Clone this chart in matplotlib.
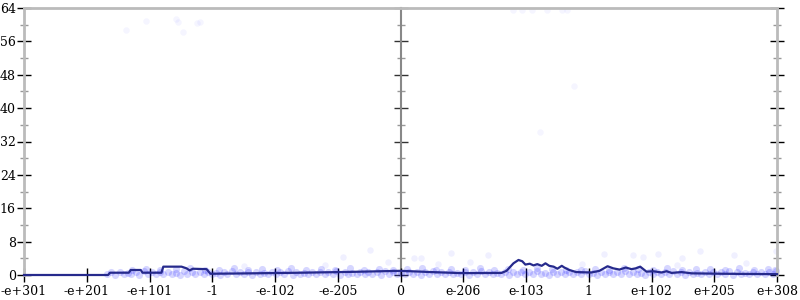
import matplotlib
matplotlib.use('Agg')
import matplotlib.pyplot as plt
import numpy as np
from matplotlib.ticker import MultipleLocator, NullFormatter

# x positions are in "tick units": one unit per labelled float magnitude
tick_pos = [-6, -5, -4, -3, -2, -1, 0, 1, 2, 3, 4, 5, 6]
tick_labels = ['-e+301', '-e+201', '-e+101', '-1', '-e-102', '-e-205', '0',
               'e-206', 'e-103', '1', 'e+102', 'e+205', 'e+308']

# average error line (bits)
line_x = [-6.0, -4.66, -4.63, -4.33, -4.30, -4.14, -4.11, -3.81, -3.78, -3.49,
          -3.41, -3.36, -3.31, -3.09, -3.03, -2.37, -1.58, -0.78, 0.0,
          0.49, 0.97, 1.61, 1.69, 1.80, 1.88, 1.94, 1.99, 2.06, 2.12, 2.18,
          2.25, 2.31, 2.37, 2.44, 2.50, 2.57, 2.61, 2.69, 2.80, 3.04, 3.17,
          3.30, 3.39, 3.49, 3.59, 3.68, 3.75, 3.82, 3.92, 4.03, 4.16, 4.24,
          4.32, 4.48, 4.64, 5.12, 6.0]
line_y = [0.0, 0.0, 0.55, 0.55, 1.2, 1.2, 0.55, 0.55, 2.0, 2.0,
          1.6, 1.1, 1.5, 1.4, 0.3, 0.4, 0.55, 0.75, 1.0,
          0.7, 0.45, 0.5, 1.0, 2.8, 3.6, 3.3, 2.5, 2.7, 2.3, 2.6,
          2.2, 2.8, 2.2, 2.0, 1.5, 2.2, 1.8, 1.2, 0.7, 0.6, 1.0,
          2.1, 1.6, 1.3, 1.8, 1.4, 1.6, 2.0, 0.8, 0.9, 0.6, 0.9,
          0.5, 0.7, 0.4, 0.3, 0.2]

# sampled points, low band
rowA_x = [-4.68, -4.55, -4.41, -4.30, -4.17, -4.02, -3.90, -3.79, -3.64, -3.52,
          -3.40, -3.27, -3.13, -3.01, -2.88, -2.76, -2.62, -2.50, -2.37, -2.24,
          -2.11, -1.99, -1.86, -1.72, -1.60, -1.47, -1.35, -1.21, -1.08, -0.96,
          -0.83, -0.70, -0.57, -0.45, -0.31, -0.19, -0.06, 0.07, 0.20, 0.33,
          0.45, 0.58, 0.71, 0.84, 0.96, 1.09, 1.22, 1.35, 1.47, 1.60,
          1.73, 1.86, 1.98, 2.11, 2.24, 2.37, 2.49, 2.62, 2.75, 2.88,
          3.00, 3.13, 3.26, 3.39, 3.51, 3.64, 3.77, 3.90, 4.02, 4.15,
          4.28, 4.41, 4.53, 4.66, 4.79, 4.92, 5.04, 5.17, 5.30, 5.43,
          5.55, 5.68, 5.81, 5.94]
rowA_y = [0.2, 0.1, 0.3, 0.2, 0.1, 0.25, 0.15, 0.3, 0.2, 0.1,
          0.2, 0.3, 0.15, 0.2, 0.1, 0.25, 0.2, 0.3, 0.1, 0.2,
          0.15, 0.25, 0.2, 0.1, 0.3, 0.2, 0.15, 0.2, 0.25, 0.1,
          0.2, 0.3, 0.2, 0.15, 0.1, 0.25, 0.2, 0.3, 0.2, 0.1,
          0.2, 0.15, 0.25, 0.2, 0.3, 0.1, 0.2, 0.2, 0.15, 0.25,
          0.1, 0.3, 0.2, 0.15, 0.2, 0.1, 0.25, 0.2, 0.3, 0.15,
          0.2, 0.1, 0.2, 0.25, 0.15, 0.3, 0.2, 0.1, 0.2, 0.25,
          0.15, 0.2, 0.1, 0.3, 0.2, 0.15, 0.25, 0.2, 0.1, 0.2,
          0.3, 0.15, 0.2, 0.25]

rowB_x = [-4.61, -4.47, -4.35, -4.22, -4.09, -3.96, -3.84, -3.70, -3.57, -3.45,
          -3.33, -3.20, -3.07, -2.94, -2.82, -2.69, -2.56, -2.43, -2.30, -2.17,
          -2.05, -1.92, -1.79, -1.66, -1.54, -1.41, -1.28, -1.15, -1.02, -0.89,
          -0.77, -0.64, -0.51, -0.38, -0.25, -0.12, 0.01, 0.13, 0.26, 0.39,
          0.52, 0.65, 0.77, 0.90, 1.03, 1.16, 1.29, 1.41, 1.54, 1.67,
          1.80, 1.92, 2.05, 2.18, 2.31, 2.43, 2.56, 2.69, 2.82, 2.94,
          3.07, 3.20, 3.33, 3.45, 3.58, 3.71, 3.84, 3.96, 4.09, 4.22,
          4.35, 4.47, 4.60, 4.73, 4.86, 4.98, 5.11, 5.24, 5.37, 5.49,
          5.62, 5.75, 5.88, 5.99]
rowB_y = [0.6, 0.8, 0.5, 0.7, 0.9, 0.6, 0.8, 0.7, 0.5, 0.9,
          0.7, 0.6, 0.8, 0.5, 0.7, 0.9, 0.6, 0.8, 0.7, 0.5,
          0.8, 0.6, 0.9, 0.7, 0.5, 0.8, 0.6, 0.7, 0.9, 0.6,
          0.5, 0.8, 0.7, 0.6, 0.9, 0.7, 0.5, 0.8, 0.6, 0.7,
          0.9, 0.6, 0.8, 0.5, 0.7, 0.6, 0.9, 0.8, 0.5, 0.7,
          0.6, 0.8, 0.7, 0.9, 0.5, 0.6, 0.8, 0.7, 0.6, 0.9,
          0.5, 0.7, 0.8, 0.6, 0.9, 0.7, 0.5, 0.8, 0.6, 0.7,
          0.9, 0.6, 0.8, 0.5, 0.7, 0.8, 0.6, 0.9, 0.7, 0.5,
          0.8, 0.6, 0.7, 0.9]

rowC_x = [-4.28, -4.05, -3.83, -3.58, -3.36, -3.12, -2.90, -2.66, -2.43, -2.20,
          -1.97, -1.74, -1.51, -1.27, -1.05, -0.81, -0.58, -0.35, -0.12, 0.10,
          0.34, 0.57, 0.80, 1.03, 1.26, 1.49, 1.72, 1.95, 2.18, 2.41,
          2.64, 2.87, 3.10, 3.33, 3.56, 3.79, 4.02, 4.25, 4.48, 4.71,
          4.94, 5.17, 5.40, 5.63, 5.86, 5.97]
rowC_y = [1.2, 1.5, 1.1, 1.4, 1.7, 1.2, 1.3, 1.6, 1.1, 1.4,
          1.2, 1.7, 1.3, 1.5, 1.1, 1.6, 1.2, 1.4, 1.3, 1.5,
          1.6, 1.2, 1.4, 1.1, 1.7, 1.3, 1.5, 1.2, 1.6, 1.4,
          1.1, 1.3, 1.5, 1.2, 1.7, 1.4, 1.3, 1.6, 1.2, 1.5,
          1.4, 1.1, 1.6, 1.3, 1.5, 1.2]

# scattered points higher up
sparse_x = [-2.5, -1.2, -0.91, -0.49, -0.2, 0.21, 0.33, 0.6, 0.81, 1.1, 1.39,
            2.9, 3.24, 3.71, 3.87, 4.11, 4.4, 4.48, 4.77, 5.32, 5.5, 5.99]
sparse_y = [2.2, 2.4, 4.3, 6.0, 3.1, 4.1, 4.1, 2.6, 5.3, 3.0, 4.8,
            2.6, 5.0, 4.8, 4.3, 5.0, 2.3, 4.1, 5.8, 4.8, 2.8, 5.8]

outlier_x = [-4.38, -4.05, -3.57, -3.55, -3.46, -3.24, -3.20,
             1.80, 1.93, 2.09, 2.33, 2.57, 2.65, 2.22, 2.76]
outlier_y = [58.8, 60.9, 61.4, 60.7, 58.3, 60.4, 60.7,
             63.6, 63.6, 63.6, 63.6, 63.6, 63.6, 34.3, 45.3]

plt.rcParams['font.family'] = 'DejaVu Serif'

fig = plt.figure(figsize=(8, 3), dpi=100)
ax = fig.add_axes([24 / 800, 25 / 300, 753 / 800, 267 / 300])

band_x = rowA_x + rowB_x + rowC_x
band_y = rowA_y + rowB_y + rowC_y
ax.scatter(band_x, band_y, s=26, color='#0000ff', alpha=0.16, linewidths=0, clip_on=False, zorder=2)
ax.scatter(sparse_x, sparse_y, s=22, color='#0000ff', alpha=0.06, linewidths=0, zorder=2)
ax.scatter(outlier_x, outlier_y, s=22, color='#0000ff', alpha=0.04, linewidths=0, zorder=2)
ax.plot(line_x, line_y, color='#262a8c', lw=1.6, clip_on=False, zorder=4)

ax.set_xlim(-6, 6)
ax.set_ylim(0, 64)
ax.set_xticks(tick_pos)
ax.set_xticklabels(tick_labels)
ax.yaxis.set_major_locator(MultipleLocator(8))
ax.yaxis.set_minor_locator(MultipleLocator(4))
ax.tick_params(axis='y', which='major', direction='inout', length=10, width=1,
               color='black', right=True, labelsize=9, pad=1)
ax.tick_params(axis='y', which='minor', direction='inout', length=6, width=1,
               color='#999999', right=True)
ax.tick_params(axis='x', direction='inout', length=10, width=1, color='black',
               labelsize=9, pad=2)
for side in ['left', 'right', 'top']:
    ax.spines[side].set_color('#bbbbbb')
    ax.spines[side].set_linewidth(2)
ax.spines['bottom'].set_visible(False)

# middle axis at zero
mid = ax.secondary_yaxis(0.5)
mid.yaxis.set_major_locator(MultipleLocator(8))
mid.yaxis.set_minor_locator(MultipleLocator(4))
mid.yaxis.set_major_formatter(NullFormatter())
mid.tick_params(which='major', direction='inout', length=10, width=1, color='#333333')
mid.tick_params(which='minor', direction='inout', length=6, width=1, color='#999999')
for side in mid.spines:
    mid.spines[side].set_color('#888888')
    mid.spines[side].set_linewidth(1.5)

fig.savefig('out.png', dpi=100)
